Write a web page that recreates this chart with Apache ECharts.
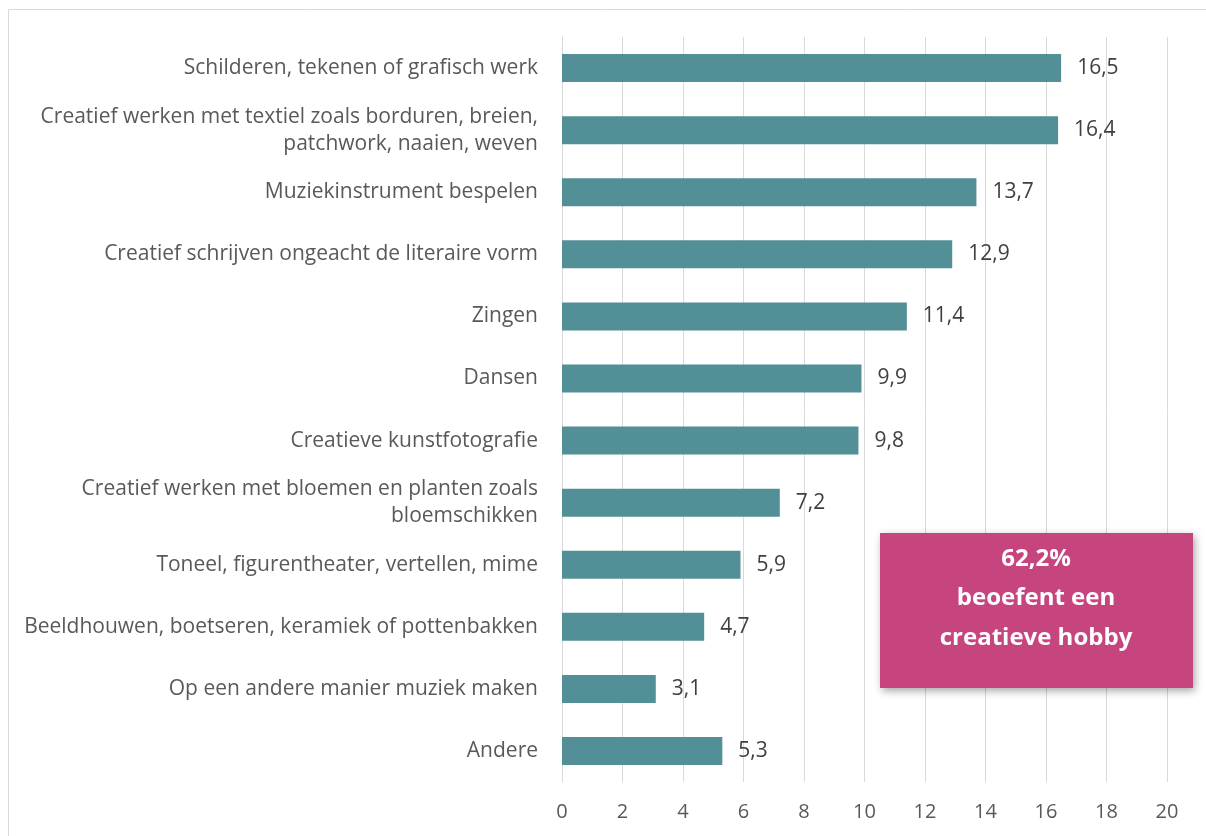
<!DOCTYPE html>
<html>
<head>
<meta charset="UTF-8">
<title>Creatieve hobby</title>
<script src="https://cdn.jsdelivr.net/npm/echarts@6/dist/echarts.min.js"></script>
<style>
  html, body { margin: 0; padding: 0; background: #fff; }
  #main { width: 1206px; height: 836px; }
</style>
</head>
<body>
<div id="main"></div>
<script>
// gegevens
var categories = [
  'Schilderen, tekenen of grafisch werk',
  'Creatief werken met textiel zoals borduren, breien,\npatchwork, naaien, weven',
  'Muziekinstrument bespelen',
  'Creatief schrijven ongeacht de literaire vorm',
  'Zingen',
  'Dansen',
  'Creatieve kunstfotografie',
  'Creatief werken met bloemen en planten zoals\nbloemschikken',
  'Toneel, figurentheater, vertellen, mime',
  'Beeldhouwen, boetseren, keramiek of pottenbakken',
  'Op een andere manier muziek maken',
  'Andere'
];
var values = [16.5, 16.4, 13.7, 12.9, 11.4, 9.9, 9.8, 7.2, 5.9, 4.7, 3.1, 5.3];
var boxLines = ['62,2%', 'beoefent een', 'creatieve hobby'];

var font = '"Open Sans", Lato, sans-serif';
var myChart = echarts.init(document.getElementById('main'));

var option = {
    backgroundColor: '#fff',
    animation: false,
    textStyle: { fontFamily: font },
    grid: { left: 562, right: 39, top: 37, bottom: 54, containLabel: false },
    xAxis: {
        type: 'value',
        min: 0, max: 20, interval: 2,
        axisLine: { show: false },
        axisTick: { show: false },
        axisLabel: { color: '#595959', fontSize: 20, margin: 20, fontFamily: font },
        splitLine: { lineStyle: { color: '#d9d9d9', width: 1 } }
    },
    yAxis: {
        type: 'category',
        inverse: true,
        data: categories,
        axisLine: { lineStyle: { color: '#d9d9d9' } },
        axisTick: { show: false },
        axisLabel: { color: '#595959', fontSize: 21, margin: 24, lineHeight: 27, align: 'right', fontFamily: font }
    },
    series: [{
        type: 'bar',
        data: values,
        barWidth: 28,
        itemStyle: { color: '#538f96' },
        label: {
            show: true,
            position: 'right',
            distance: 16,
            color: '#404040',
            fontSize: 21,
            fontFamily: font,
            formatter: function (p) { return p.value.toFixed(1).replace('.', ','); }
        }
    }],
    graphic: [
        {
            type: 'rect', left: 6, top: 7, silent: true,
            shape: { width: 1210, height: 840 },
            style: { fill: 'none', stroke: '#d9d9d9', lineWidth: 1 }
        },
        {
            type: 'rect', left: 880, top: 533, z: 10,
            shape: { width: 313, height: 155 },
            style: { fill: '#c7457e', shadowBlur: 8, shadowColor: 'rgba(0,0,0,0.35)', shadowOffsetX: 2, shadowOffsetY: 3 }
        },
        {
            type: 'text', x: 1036, y: 539, z: 11,
            style: {
                text: boxLines.join('\n'),
                align: 'center',
                verticalAlign: 'top',
                fill: '#fff',
                font: 'bold 24px ' + font,
                lineHeight: 39.5
            }
        }
    ]
};
myChart.setOption(option);
</script>
</body>
</html>
